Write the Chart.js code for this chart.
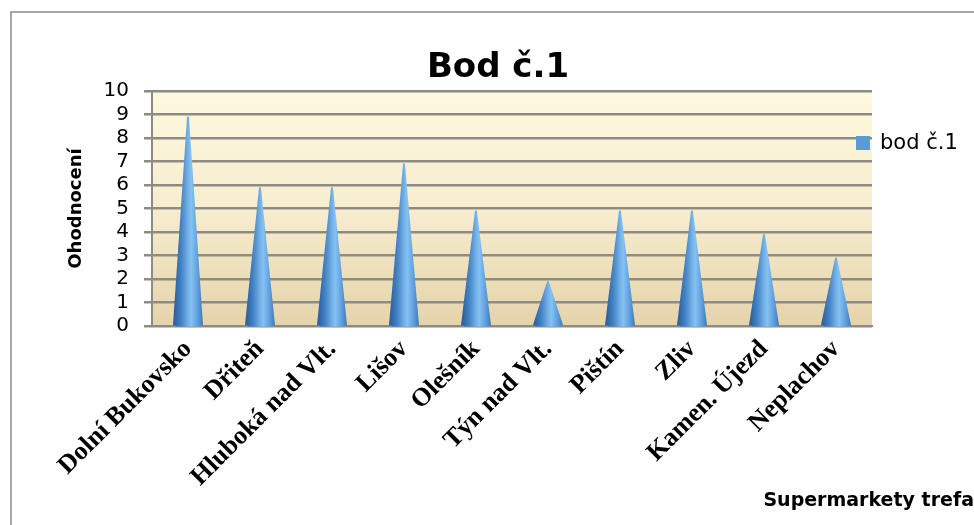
<!DOCTYPE html>
<html>
<head>
<meta charset="utf-8">
<script src="https://cdn.jsdelivr.net/npm/chart.js@4.4.1/dist/chart.umd.min.js"></script>
<style>
    html, body { margin: 0; padding: 0; background: #fff; overflow: hidden; }
    #chart { display: block; }
</style>
</head>
<body>
<canvas id="chart" width="974" height="525"></canvas>
<script>
// Chart data
var categories = ['Dolní Bukovsko', 'Dřiteň', 'Hluboká nad Vlt.', 'Lišov', 'Olešník',
    'Týn nad Vlt.', 'Pištín', 'Zliv', 'Kamen. Újezd', 'Neplachov'];
var bodValues = [9, 6, 6, 7, 5, 2, 5, 5, 4, 3];
var seriesName = 'bod č.1';
var chartTitle = 'Bod č.1';
var yAxisTitle = 'Ohodnocení';
var xAxisTitle = 'Supermarkety trefa';
var yTicks = [0, 1, 2, 3, 4, 5, 6, 7, 8, 9, 10];

var gridColor = '#8e8b84';
var coneColor = '#5b9bd5';

// outer frame + plot background
var backgroundPlugin = {
    id: 'background',
    beforeDraw: function (chart) {
        var ctx = chart.ctx;
        var a = chart.chartArea;
        ctx.save();
        ctx.strokeStyle = '#a6a6a6';
        ctx.lineWidth = 2;
        ctx.beginPath();
        ctx.moveTo(11, 525);
        ctx.lineTo(11, 12);
        ctx.lineTo(974, 12);
        ctx.stroke();

        var g = ctx.createLinearGradient(0, a.top, 0, a.bottom);
        g.addColorStop(0, '#fdf8de');
        g.addColorStop(0.5, '#f7edcf');
        g.addColorStop(1, '#e5d3aa');
        ctx.fillStyle = g;
        ctx.fillRect(a.left, a.top, a.right - a.left, a.bottom - a.top);
        ctx.restore();
    }
};

// draw each bar as a cone, using the bar element geometry
var conePlugin = {
    id: 'cones',
    afterDatasetsDraw: function (chart) {
        var ctx = chart.ctx;
        var meta = chart.getDatasetMeta(0);
        ctx.save();
        meta.data.forEach(function (bar) {
            var p = bar.getProps(['x', 'y', 'base', 'width'], true);
            var half = p.width / 2;
            var g = ctx.createLinearGradient(p.x - half, 0, p.x + half, 0);
            g.addColorStop(0, '#285b94');
            g.addColorStop(0.25, '#3f7fc2');
            g.addColorStop(0.6, '#86c3f4');
            g.addColorStop(0.85, '#5a9ad8');
            g.addColorStop(1, '#3c78b8');
            ctx.fillStyle = g;
            ctx.beginPath();
            ctx.moveTo(p.x - half, p.base);
            ctx.lineTo(p.x - 1, p.y + 3);
            ctx.quadraticCurveTo(p.x, p.y, p.x + 1, p.y + 3);
            ctx.lineTo(p.x + half, p.base);
            ctx.ellipse(p.x, p.base, half, 2, 0, 0, Math.PI);
            ctx.closePath();
            ctx.fill();
        });
        ctx.restore();
    }
};

// title, legend and x axis title
var labelsPlugin = {
    id: 'labels',
    afterDraw: function (chart) {
        var ctx = chart.ctx;
        ctx.save();
        ctx.fillStyle = '#000';
        ctx.font = 'bold 34px "DejaVu Sans"';
        ctx.textAlign = 'center';
        ctx.textBaseline = 'middle';
        ctx.fillText(chartTitle, 498, 68);

        ctx.fillStyle = chart.data.datasets[0].legendColor;
        ctx.fillRect(856, 136, 14, 14);
        ctx.fillStyle = '#000';
        ctx.font = '21px "DejaVu Sans"';
        ctx.textAlign = 'left';
        ctx.fillText(chart.data.datasets[0].label, 880, 144);

        ctx.font = 'bold 19px "DejaVu Sans"';
        ctx.textAlign = 'right';
        ctx.fillText(xAxisTitle, 974, 501);
        ctx.restore();
    }
};

var ctx = document.getElementById('chart').getContext('2d');
var chart = new Chart(ctx, {
    type: 'bar',
    data: {
        labels: categories,
        datasets: [{
            label: seriesName,
            data: bodValues,
            legendColor: coneColor,
            backgroundColor: 'rgba(0,0,0,0)',
            borderWidth: 0,
            categoryPercentage: 0.8,
            barPercentage: 0.52
        }]
    },
    options: {
        responsive: false,
        animation: false,
        layout: { padding: { left: 0, right: 102, top: 91, bottom: 0 } },
        plugins: {
            legend: { display: false },
            tooltip: { enabled: false },
            title: { display: false }
        },
        scales: {
            x: {
                grid: { display: false },
                border: { display: true, color: gridColor, width: 2 },
                ticks: {
                    color: '#000',
                    autoSkip: false,
                    minRotation: 45,
                    maxRotation: 45,
                    padding: 0,
                    font: { family: 'Liberation Serif', size: 26, weight: 'bold' }
                },
                afterFit: function (scale) { scale.height = 199; }
            },
            y: {
                min: 0,
                max: 10,
                afterBuildTicks: function (scale) {
                    scale.ticks = yTicks.map(function (v) { return { value: v }; });
                },
                grid: { color: gridColor, lineWidth: 2.5, tickLength: 8 },
                border: { color: gridColor, width: 2 },
                ticks: {
                    color: '#000',
                    autoSkip: false,
                    padding: 15,
                    font: { family: 'DejaVu Sans', size: 20 }
                },
                title: {
                    display: true,
                    text: yAxisTitle,
                    color: '#000',
                    font: { family: 'DejaVu Sans', size: 18, weight: 'bold', lineHeight: 1.2 },
                    padding: { top: 66, bottom: 0 }
                },
                afterFit: function (scale) { scale.width = 152; }
            }
        }
    },
    plugins: [backgroundPlugin, conePlugin, labelsPlugin]
});
</script>
</body>
</html>
